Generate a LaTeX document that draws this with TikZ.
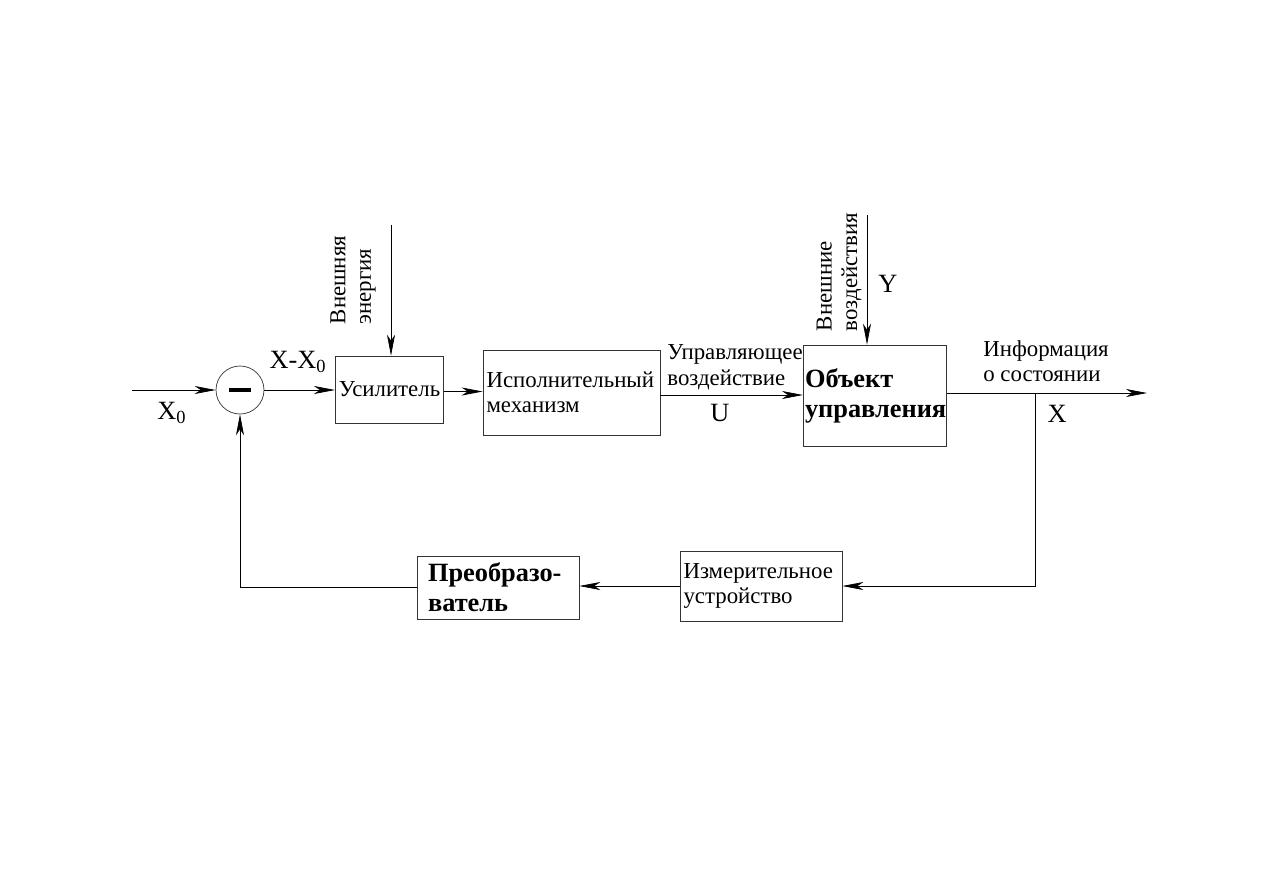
\documentclass[tikz,border=0pt]{standalone}
\usepackage{fontspec}
\setmainfont{Liberation Serif}
\usetikzlibrary{arrows.meta,positioning,calc}
\tikzstyle{block}=[draw=black!80, thin, inner sep=2pt, font=\fontsize{13}{14.5}\selectfont]
\tikzstyle{bblock}=[block, font=\fontsize{15}{17}\selectfont\bfseries]
\tikzstyle{lab}=[inner sep=0pt, font=\fontsize{13}{14.5}\selectfont]
\tikzstyle{sig}=[inner sep=0pt, font=\fontsize{15}{16}\selectfont]
\tikzstyle{arr}=[thin, -{Stealth[length=4.2mm,width=1.6mm,inset=1.2mm]}]
\begin{document}
\begin{tikzpicture}[x=0.02cm, y=-0.02cm]
      \useasboundingbox (0,0) rectangle (1263,893);
      %
      \node at (240,390) [circle, draw=black!80, thin, minimum size=0.96cm, inner sep=0pt] (sum) {};
      \draw[line width=2.2pt] (229,390) -- (251,390);
      \node at (389.5,389.5) [block, minimum width=2.06cm, minimum height=1.34cm] (amp) {Усилитель};
      \node at (571.5,392.5) [block, minimum width=3.5cm, minimum height=1.7cm, text width=3.4cm, align=left] (act) {Исполнительный\\механизм};
      \node at (875,395.5) [bblock, minimum width=2.84cm, minimum height=2.02cm, text width=2.8cm, align=left, inner sep=1pt] (obj) {Объект\\управления\\[2pt]};
      \node at (761,586) [block, minimum width=3.24cm, minimum height=1.4cm, text width=3.1cm, align=left] (meas) {Измерительное\\устройство};
      \node at (498,587.5) [bblock, minimum width=3.24cm, minimum height=1.26cm, text width=2.8cm, align=left] (conv) {Преобразо-\\ватель};
      %
      \coordinate (in) at (132,390);
      \coordinate (en) at (391,225);
      \coordinate (dist) at (867,215);
      \coordinate (br) at (1035,393);
      \coordinate (out) at (1147,393);
      %
      \draw[arr] (in) -- (sum.west);
      \draw[arr] (sum.east) -- (amp.west |- sum.east);
      \draw[arr] (en) -- (amp.north -| en);
      \draw[arr] ($(amp.east)+(0,2)$) -- ($(act.west |- amp.east)+(0,2)$);
      \draw[arr] ($(act.east)+(0,2.5)$) -- ($(obj.west |- act.east)+(0,2.5)$);
      \draw[arr] (dist) -- (obj.north -| dist);
      \draw[arr] (obj.east |- out) -- (out);
      \draw[arr] (br) |- (meas.east);
      \draw[arr] (meas.west) -- (conv.east |- meas.west);
      \draw[arr] (conv.west) -| (sum.south);
      %
      \node at (172,413) [sig] (x0) {X\textsubscript{0}};
      \node at (298,362) [sig] (dx) {X-X\textsubscript{0}};
      \node at (720,413) [sig] (u) {U};
      \node at (888,284) [sig] (y) {Y};
      \node at (1057,414) [sig] (x) {X};
      \node at (735,367) [lab, align=left] (ctl) {Управляющее\\воздействие};
      \node at (1046,361) [lab, align=left] (inf) {Информация\\о состоянии};
      \node at (353,280) [lab, align=left, rotate=90] (enl) {Внешняя\\энергия};
      \node at (839,272) [lab, align=left, rotate=90] (distl) {Внешние\\воздействия};
      %
\end{tikzpicture}
\end{document}
